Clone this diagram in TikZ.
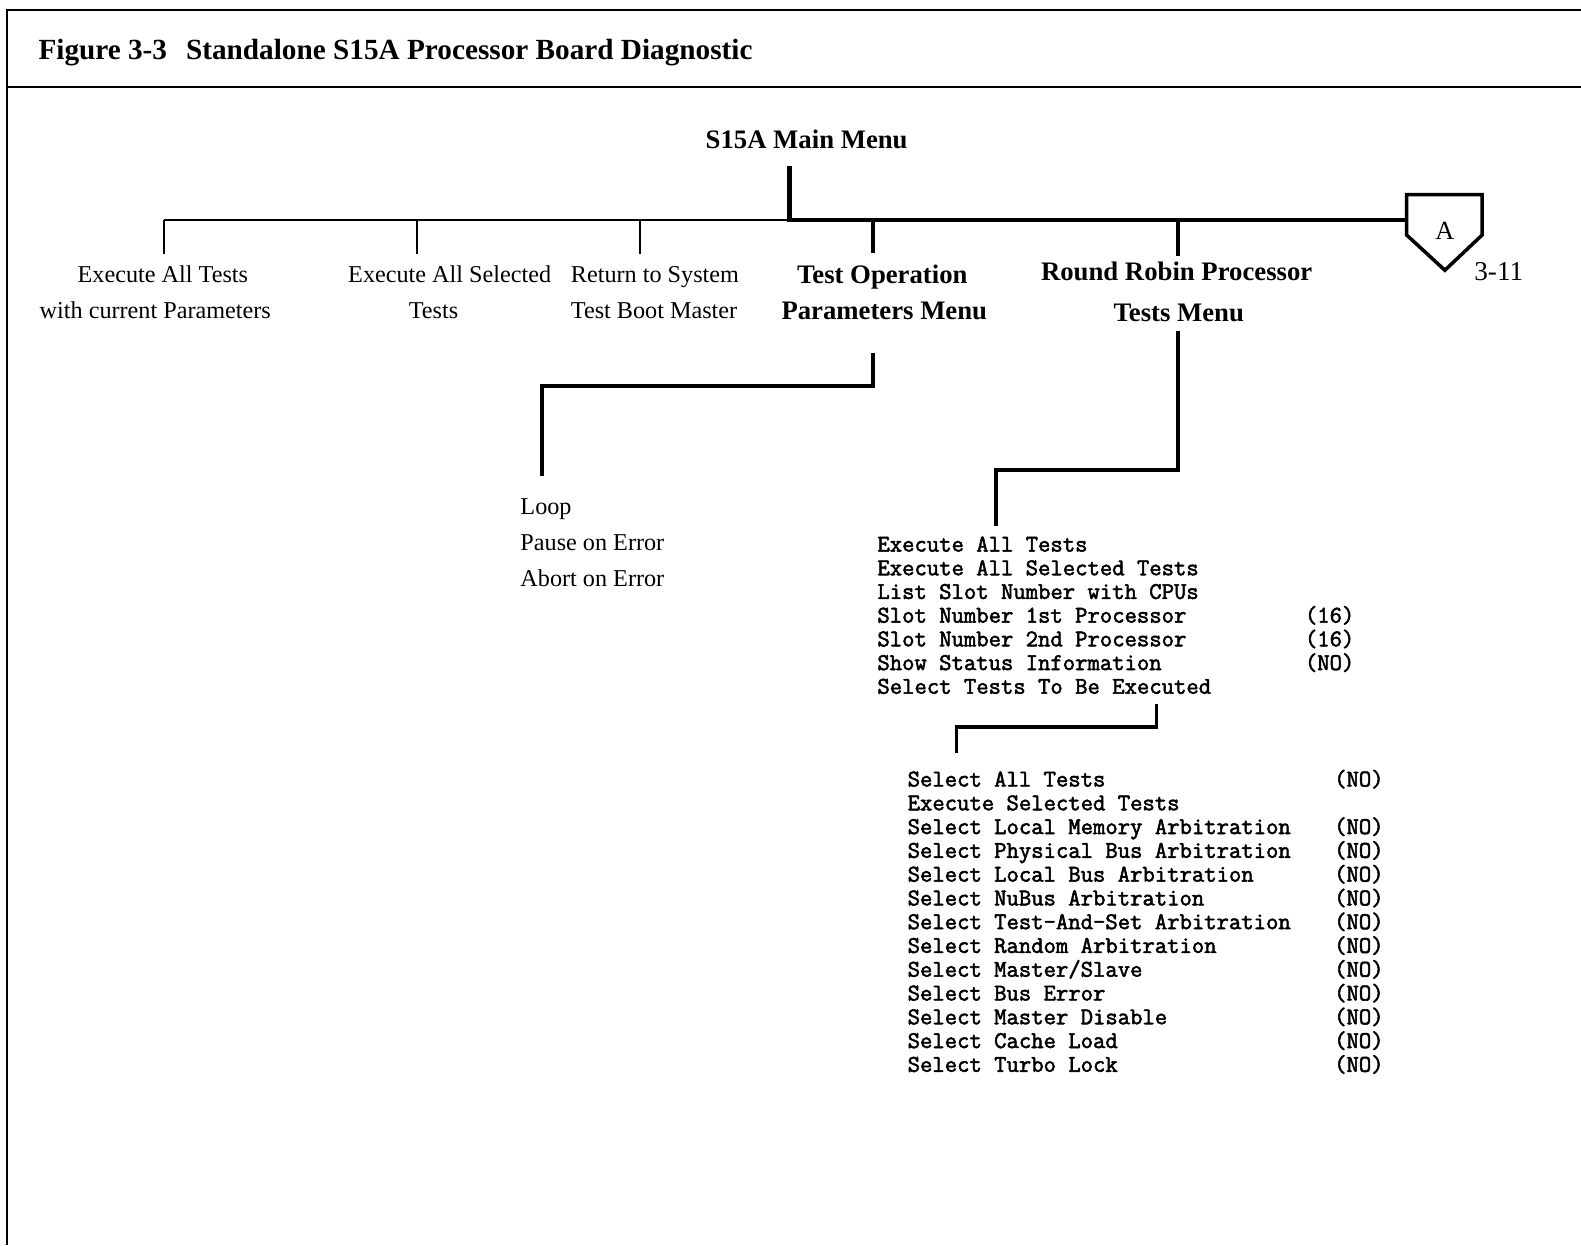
\documentclass[tikz,border=0pt]{standalone}
\usepackage{fontspec}
\setmainfont{Liberation Serif}
\newfontfamily\monof{Latin Modern Mono}[FakeBold=2.2]
\begin{document}
\begin{tikzpicture}[x=1pt,y=-1pt,
  txt/.style={inner sep=0pt, font=\fontsize{24}{28}\selectfont},
  btxt/.style={inner sep=0pt, font=\fontsize{26.5}{30}\selectfont\bfseries},
  ttl/.style={inner sep=0pt, font=\fontsize{29}{33}\selectfont\bfseries},
  mtxt/.style={inner sep=0pt, anchor=base west, font=\monof\fontsize{23.8}{26}\selectfont},
  thinln/.style={line width=2pt},
  thickln/.style={line width=4pt},
  frameln/.style={line width=2pt},
]
\useasboundingbox (0,0) rectangle (1568,1235);
% frame
\coordinate (tl) at (7,10);
\coordinate (tr) at (1568,10);
\coordinate (ml) at (7,86);
\coordinate (mr) at (1568,86);
\coordinate (bl) at (7,1235);
\draw[frameln] (tr) -- (tl) -- (bl);
\draw[frameln] (ml) -- (mr);
\node[ttl, anchor=base west] (title) at (38,59) {Figure 3-3\hspace{0.4em} Standalone S15A Processor Board Diagnostic};

% main menu
\node[btxt, anchor=base] (main) at (800,147) {S15A Main Menu};
\coordinate (mtop) at (783,165);
\coordinate (mbus) at (783,218);
\coordinate (busL) at (163,218);

% children
\node[txt, anchor=base] (c1a) at (161.5,280) {Execute All Tests};
\node[txt, anchor=base] (c1b) at (154,316) {with current Parameters};
\node[txt, anchor=base] (c2a) at (446,280) {Execute All Selected};
\node[txt, anchor=base] (c2b) at (430,316) {Tests};
\node[txt, anchor=base west] (c3a) at (566,280) {Return to System};
\node[txt, anchor=base west] (c3b) at (566,316) {Test Boot Master};
\node[btxt, anchor=base] (c4a) at (875,281) {Test Operation};
\node[btxt, anchor=base] (c4b) at (877,317) {Parameters Menu};
\node[btxt, anchor=base] (c5a) at (1167,278) {Round Robin Processor};
\node[btxt, anchor=base] (c5b) at (1169,319) {Tests Menu};

% off-page connector A
\coordinate (Aw) at (1395,218);
\draw[line width=3.5pt, line join=miter] (1395,193) -- (1470,193) -- (1470,233) -- (1433,268) -- (1395,233) -- cycle;
\node[txt, font=\fontsize{26}{30}\selectfont] (A) at (1433,229) {A};
\node[txt, font=\fontsize{27}{30}\selectfont, anchor=base west] (pg) at (1462,278) {3-11};

% bus
\draw[thickln] (mtop) -- (mbus) -- (Aw);
\draw[thinln] (mbus) -- (busL);
\draw[thinln] (busL) -- (163,252);
\draw[thinln] (414,218) -- (414,252);
\draw[thinln] (635,218) -- (635,252);
\draw[thickln] (866,218) -- (866,251);
\draw[thickln] (1168,218) -- (1168,254);

% test operation sub-tree
\draw[thickln, line join=miter] (866,350) -- (866,383) -- (538,383) -- (538,472);
\node[txt, anchor=base west] (loop) at (516,510) {Loop};
\node[txt, anchor=base west] (pause) at (516,546) {Pause on Error};
\node[txt, anchor=base west] (abort) at (516,582) {Abort on Error};

% round robin sub-tree
\draw[thickln, line join=miter] (1168,328) -- (1168,466) -- (988,466) -- (988,522);
\node[mtxt] (r1) at (870,547) {Execute All Tests};
\node[mtxt] (r2) at (870,570.5) {Execute All Selected Tests};
\node[mtxt] (r3) at (870,594) {List Slot Number with CPUs};
\node[mtxt] (r4) at (870,617.5) {Slot Number 1st Processor};
\node[mtxt] (r5) at (870,641) {Slot Number 2nd Processor};
\node[mtxt] (r6) at (870,664.5) {Show Status Information};
\node[mtxt] (r7) at (870,688) {Select Tests To Be Executed};
\node[mtxt] (v4) at (1294,617.5) {(16)};
\node[mtxt] (v5) at (1294,641) {(16)};
\node[mtxt] (v6) at (1294,664.5) {(NO)};

% select tests sub-tree
\draw[line width=3pt, line join=miter] (1147,698) -- (1147,721) -- (949,721) -- (949,747);
\foreach \t [count=\i from 0] in {Select All Tests,Execute Selected Tests,Select Local Memory Arbitration,Select Physical Bus Arbitration,Select Local Bus Arbitration,Select NuBus Arbitration,Select Test-And-Set Arbitration,Select Random Arbitration,Select Master/Slave,Select Bus Error,Select Master Disable,Select Cache Load,Select Turbo Lock}
  \node[mtxt] (s\i) at (900,780+23.58*\i) {\t};
\foreach \i in {0,2,3,4,5,6,7,8,9,10,11,12}
  \node[mtxt] (n\i) at (1323,780+23.58*\i) {(NO)};
\end{tikzpicture}
\end{document}
